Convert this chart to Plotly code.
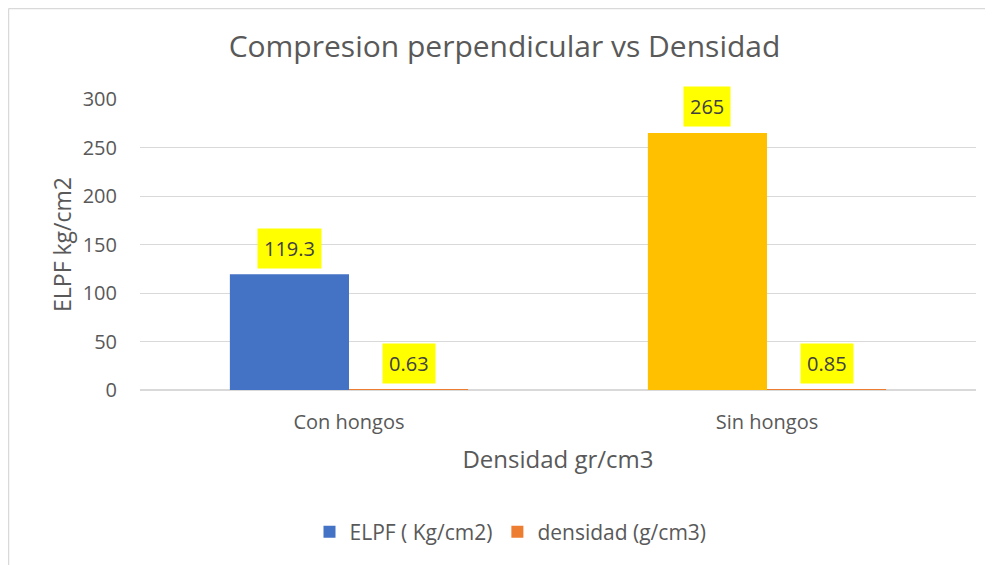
import plotly.graph_objects as go

categories = ["Con hongos", "Sin hongos"]
elpf = [119.3, 265]
densidad = [0.63, 0.85]
elpf_colors = ["#4472C4", "#FFC000"]
dens_color = "#ED7D31"
elpf_labels = ["119.3", "265"]
dens_labels = ["0.63", "0.85"]

W, H = 993, 565
L, R, T, B = 132, 25, 91, 183
pw, ph = W - L - R, H - T - B

def px(x):
    return (x - L) / pw

def py(y):
    return (H - B - y) / ph

fig = go.Figure()
fig.add_trace(go.Bar(x=categories, y=elpf, name="ELPF ( Kg/cm2)",
                     marker=dict(color=elpf_colors, line=dict(width=0))))
fig.add_trace(go.Bar(x=categories, y=densidad, name="densidad (g/cm3)",
                     marker=dict(color=dens_color, line=dict(width=0))))

lab_font = dict(family="Open Sans", size=20, color="#404040")
annotations = []
for i, c in enumerate(categories):
    annotations.append(dict(x=c, y=elpf[i], xref="x", yref="y", text=elpf_labels[i],
                            showarrow=False, xshift=-60, yshift=26,
                            bgcolor="#FFFF00", borderpad=6, font=lab_font))
    annotations.append(dict(x=c, y=densidad[i], xref="x", yref="y", text=dens_labels[i],
                            showarrow=False, xshift=60, yshift=26,
                            bgcolor="#FFFF00", borderpad=6, font=lab_font))

fig.update_layout(
    width=W, height=H,
    margin=dict(l=L, r=R, t=T, b=B, autoexpand=False),
    paper_bgcolor="white", plot_bgcolor="white",
    barmode="group", bargap=0.43, bargroupgap=0,
    title=dict(text="Compresion perpendicular vs Densidad", x=0.5, xanchor="center",
               xref="container",
               y=1 - 38 / H, yanchor="middle",
               font=dict(family="Open Sans", size=30, color="#595959")),
    xaxis=dict(showgrid=False, showline=False, ticks="", ticklabelstandoff=18,
               tickfont=dict(family="Open Sans", size=20, color="#595959"),
               title=dict(text="Densidad gr/cm3", standoff=17,
                          font=dict(family="Open Sans", size=24, color="#595959"))),
    yaxis=dict(range=[0, 300], dtick=50, showgrid=True, gridcolor="#D9D9D9", gridwidth=1,
               zeroline=True, zerolinecolor="#D9D9D9", showline=False, ticks="",
               ticklabelstandoff=22,
               tickfont=dict(family="Open Sans", size=20, color="#595959"),
               title=dict(text="ELPF kg/cm2", standoff=4,
                          font=dict(family="Open Sans", size=23, color="#595959"))),
    legend=dict(orientation="h", x=px(502.5), xanchor="center",
                y=py(524), yanchor="middle",
                font=dict(family="Open Sans", size=21, color="#595959")),
    annotations=annotations,
    shapes=[
        dict(type="line", xref="paper", yref="paper", x0=px(0.5), x1=px(W), y0=py(0.5), y1=py(0.5),
             line=dict(color="#D9D9D9", width=1.5)),
        dict(type="line", xref="paper", yref="paper", x0=px(0.5), x1=px(0.5), y0=py(0.5), y1=py(H),
             line=dict(color="#D9D9D9", width=1.5)),
    ],
)

fig.write_html("out.html")
